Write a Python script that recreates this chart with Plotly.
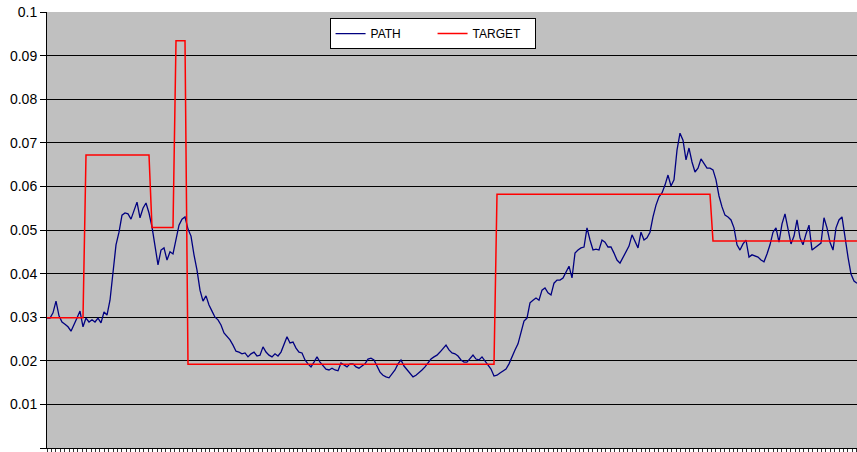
import plotly.graph_objects as go

# Observation index (one value per period)
n_obs = 271
obs = list(range(n_obs))

# PATH series
path = [
    0.0298, 0.0298, 0.0310, 0.0337, 0.0303, 0.0289, 0.0284, 0.0278, 0.0268, 0.0282,
    0.0298, 0.0314, 0.0278, 0.0298, 0.0289, 0.0294, 0.0289, 0.0298, 0.0287, 0.0312,
    0.0305, 0.0339, 0.0408, 0.0466, 0.0495, 0.0534, 0.0539, 0.0537, 0.0525, 0.0546,
    0.0564, 0.0528, 0.0550, 0.0562, 0.0539, 0.0507, 0.0461, 0.0420, 0.0454, 0.0459,
    0.0431, 0.0450, 0.0445, 0.0477, 0.0511, 0.0525, 0.0530, 0.0502, 0.0486, 0.0443,
    0.0408, 0.0362, 0.0337, 0.0349, 0.0328, 0.0314, 0.0300, 0.0294, 0.0282, 0.0264,
    0.0257, 0.0248, 0.0236, 0.0222, 0.0220, 0.0216, 0.0218, 0.0209, 0.0216, 0.0220,
    0.0211, 0.0213, 0.0232, 0.0220, 0.0213, 0.0209, 0.0216, 0.0211, 0.0220, 0.0239,
    0.0255, 0.0241, 0.0243, 0.0229, 0.0220, 0.0218, 0.0202, 0.0193, 0.0186, 0.0197,
    0.0209, 0.0197, 0.0188, 0.0181, 0.0179, 0.0183, 0.0179, 0.0177, 0.0195, 0.0190,
    0.0186, 0.0193, 0.0193, 0.0186, 0.0183, 0.0188, 0.0193, 0.0204, 0.0206, 0.0202,
    0.0188, 0.0174, 0.0167, 0.0163, 0.0161, 0.0170, 0.0179, 0.0193, 0.0202, 0.0188,
    0.0179, 0.0170, 0.0163, 0.0167, 0.0172, 0.0179, 0.0186, 0.0195, 0.0204, 0.0209,
    0.0213, 0.0220, 0.0227, 0.0236, 0.0225, 0.0218, 0.0216, 0.0211, 0.0202, 0.0197,
    0.0197, 0.0204, 0.0213, 0.0204, 0.0202, 0.0209, 0.0200, 0.0190, 0.0181, 0.0165,
    0.0167, 0.0172, 0.0177, 0.0181, 0.0193, 0.0211, 0.0225, 0.0239, 0.0264, 0.0291,
    0.0298, 0.0333, 0.0339, 0.0344, 0.0339, 0.0362, 0.0367, 0.0356, 0.0351, 0.0378,
    0.0385, 0.0385, 0.0390, 0.0404, 0.0417, 0.0390, 0.0447, 0.0454, 0.0459, 0.0461,
    0.0505, 0.0477, 0.0454, 0.0456, 0.0454, 0.0477, 0.0472, 0.0461, 0.0461, 0.0447,
    0.0431, 0.0424, 0.0438, 0.0450, 0.0463, 0.0489, 0.0472, 0.0459, 0.0495, 0.0477,
    0.0482, 0.0495, 0.0530, 0.0557, 0.0576, 0.0585, 0.0603, 0.0626, 0.0601, 0.0615,
    0.0683, 0.0722, 0.0706, 0.0661, 0.0688, 0.0656, 0.0633, 0.0642, 0.0663, 0.0651,
    0.0642, 0.0642, 0.0638, 0.0615, 0.0578, 0.0553, 0.0534, 0.0530, 0.0523, 0.0505,
    0.0466, 0.0454, 0.0468, 0.0477, 0.0438, 0.0443, 0.0440, 0.0438, 0.0431, 0.0427,
    0.0445, 0.0466, 0.0495, 0.0505, 0.0472, 0.0514, 0.0537, 0.0500, 0.0468, 0.0486,
    0.0523, 0.0482, 0.0466, 0.0491, 0.0511, 0.0454, 0.0459, 0.0463, 0.0470, 0.0528,
    0.0505, 0.0472, 0.0454, 0.0505, 0.0523, 0.0530, 0.0482, 0.0438, 0.0399, 0.0383,
    0.0378,
]

# TARGET series: level in force from each starting observation
target_start = [0, 13, 35, 43, 47, 150, 222]
target_level = [0.0299, 0.0672, 0.0506, 0.0934, 0.0192, 0.0582, 0.0475]

target = []
for k, start in enumerate(target_start):
    end = target_start[k + 1] if k + 1 < len(target_start) else n_obs
    target.extend([target_level[k]] * (end - start))

y_ticks = [round(0.01 * i, 2) for i in range(11)]

fig = go.Figure()
fig.add_trace(go.Scatter(
    x=obs, y=path, mode="lines", name="PATH",
    line=dict(color="#000080", width=1.3),
))
fig.add_trace(go.Scatter(
    x=obs, y=target, mode="lines", name="TARGET",
    line=dict(color="#FF0000", width=1.5),
))

fig.update_layout(
    width=857, height=452,
    margin=dict(l=47, r=0, t=12, b=4, autoexpand=False),
    paper_bgcolor="white",
    plot_bgcolor="#C0C0C0",
    font=dict(family="Liberation Sans, Arial, sans-serif", color="black"),
    showlegend=True,
    legend=dict(
        orientation="h",
        x=0.476, xanchor="center",
        y=0.986, yanchor="top",
        bgcolor="white",
        bordercolor="black",
        borderwidth=1,
        font=dict(size=12, color="black"),
        entrywidth=57,
        entrywidthmode="pixels",
        itemwidth=30,
    ),
)

fig.update_xaxes(
    range=[0, n_obs - 1],
    showgrid=False,
    zeroline=False,
    showline=True, linecolor="black", linewidth=1,
    ticks="outside", ticklen=4, tickwidth=1, tickcolor="#333333",
    tick0=0, dtick=1.467,
    showticklabels=False,
    fixedrange=True,
)

fig.update_yaxes(
    range=[0, 0.1],
    tickvals=y_ticks,
    ticktext=[("%g" % v) for v in y_ticks],
    showgrid=True, gridcolor="black", gridwidth=1,
    zeroline=False,
    showline=True, linecolor="black", linewidth=1,
    ticks="outside", ticklen=6, tickwidth=1, tickcolor="black",
    tickfont=dict(size=14, color="black"),
    fixedrange=True,
)

fig.write_html("out.html")
